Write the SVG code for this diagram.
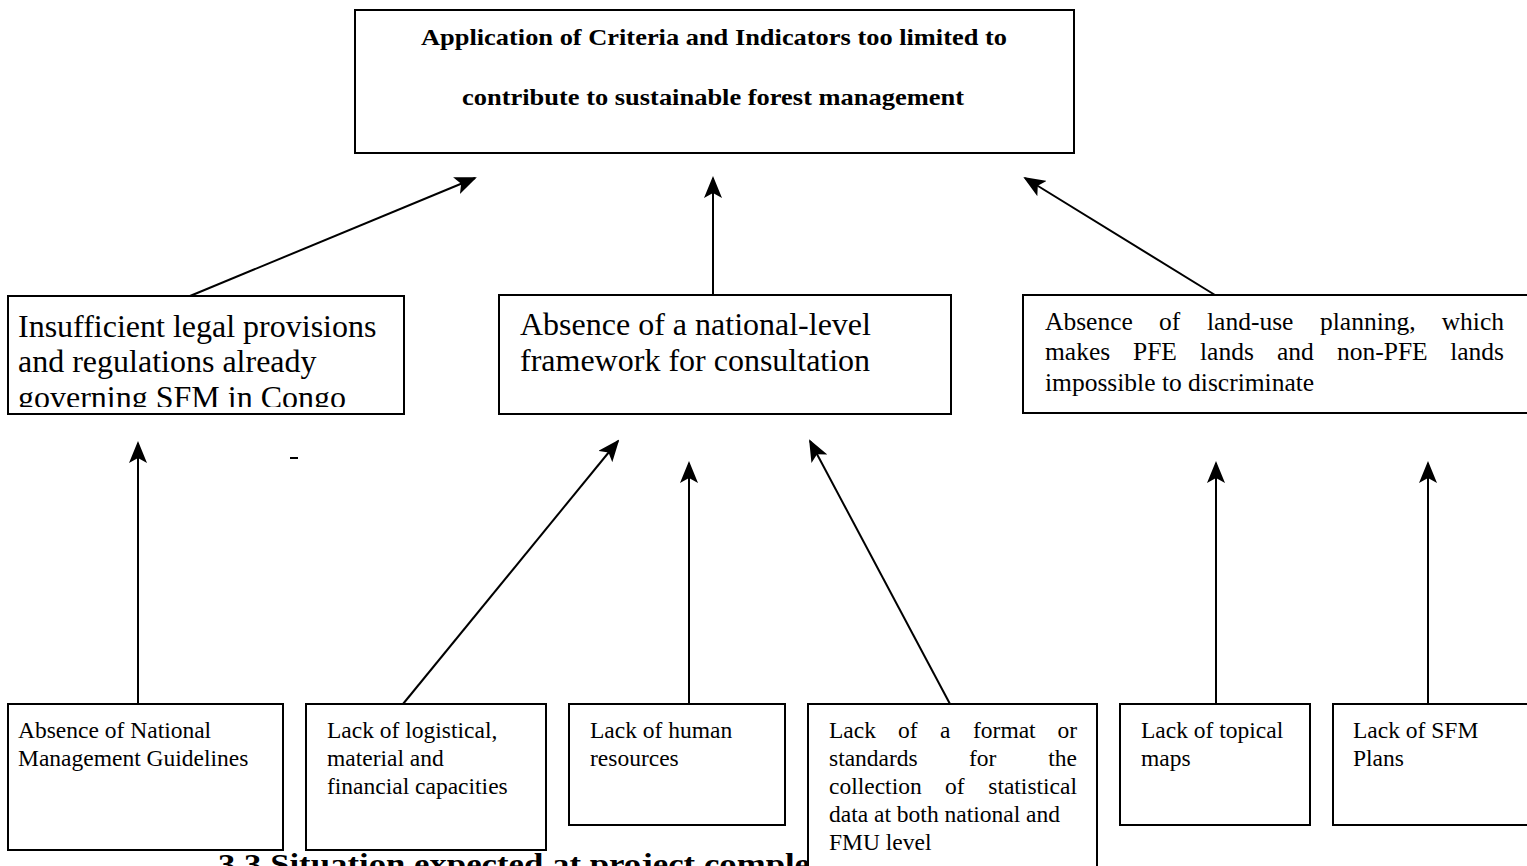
<svg xmlns="http://www.w3.org/2000/svg" width="1527" height="866" viewBox="0 0 1527 866">
<defs>
<style>
.box{fill:#fff;stroke:#000;stroke-width:2}
.t{font-family:"Liberation Serif","Times New Roman",serif;fill:#000}
.big{font-size:32px}
.sm{font-size:23.5px}
.rm{font-size:25.5px}
.title{font-size:23px;font-weight:bold}
.cap{font-size:30px;font-weight:bold}
.c{stroke:#000;stroke-width:2;fill:none;marker-end:url(#ah)}
</style>
<marker id="ah" markerUnits="userSpaceOnUse" markerWidth="22" markerHeight="18" viewBox="0 0 22 18" refX="20" refY="9" orient="auto">
<path d="M0,0 L22,9 L0,18 L5,9 z" fill="#000"/>
</marker>
<clipPath id="clipL"><rect x="8" y="296" width="396" height="111"/></clipPath>
</defs>
<rect width="1527" height="866" fill="#fff"/>

<text class="t cap" x="218" y="874" textLength="650" lengthAdjust="spacingAndGlyphs">3.3 Situation expected at project completion</text>

<g id="top">
<rect class="box" x="355" y="10" width="719" height="143"/>
<text class="t title" x="421" y="45" textLength="586" lengthAdjust="spacingAndGlyphs">Application of Criteria and Indicators too limited to</text>
<text class="t title" x="462" y="105" textLength="502" lengthAdjust="spacingAndGlyphs">contribute to sustainable forest management</text>
</g>

<g id="mid-left">
<rect class="box" x="8" y="296" width="396" height="118"/>
<g clip-path="url(#clipL)">
<text class="t big" x="18" y="337">Insufficient legal provisions</text>
<text class="t big" x="18" y="372">and regulations already</text>
<text class="t big" x="18" y="408">governing SFM in Congo</text>
</g>
</g>

<g id="mid-center">
<rect class="box" x="499" y="295" width="452" height="119"/>
<text class="t big" x="520" y="335">Absence of a national-level</text>
<text class="t big" x="520" y="371">framework for consultation</text>
</g>

<g id="mid-right">
<rect class="box" x="1023" y="295" width="510" height="118"/>
<text class="t rm" y="330"><tspan x="1045">Absence</tspan><tspan x="1159">of</tspan><tspan x="1207">land-use</tspan><tspan x="1320">planning,</tspan><tspan x="1504" text-anchor="end">which</tspan></text>
<text class="t rm" y="360"><tspan x="1045">makes</tspan><tspan x="1133">PFE</tspan><tspan x="1200">lands</tspan><tspan x="1277">and</tspan><tspan x="1337">non-PFE</tspan><tspan x="1504" text-anchor="end">lands</tspan></text>
<text class="t rm" x="1045" y="391">impossible to discriminate</text>
</g>

<g id="b1">
<rect class="box" x="8" y="704" width="275" height="146"/>
<text class="t sm" x="18" y="738">Absence of National</text>
<text class="t sm" x="18" y="766">Management Guidelines</text>
</g>

<g id="b2">
<rect class="box" x="306" y="704" width="240" height="146"/>
<text class="t sm" x="327" y="738">Lack of logistical,</text>
<text class="t sm" x="327" y="766">material and</text>
<text class="t sm" x="327" y="794">financial capacities</text>
</g>

<g id="b3">
<rect class="box" x="569" y="704" width="216" height="121"/>
<text class="t sm" x="590" y="738">Lack of human</text>
<text class="t sm" x="590" y="766">resources</text>
</g>

<g id="b4">
<rect class="box" x="808" y="704" width="289" height="170"/>
<text class="t sm" y="738"><tspan x="829">Lack</tspan><tspan x="898">of</tspan><tspan x="940">a</tspan><tspan x="973">format</tspan><tspan x="1077" text-anchor="end">or</tspan></text>
<text class="t sm" y="766"><tspan x="829">standards</tspan><tspan x="969">for</tspan><tspan x="1077" text-anchor="end">the</tspan></text>
<text class="t sm" y="794"><tspan x="829">collection</tspan><tspan x="945">of</tspan><tspan x="1077" text-anchor="end">statistical</tspan></text>
<text class="t sm" x="829" y="822">data at both national and</text>
<text class="t sm" x="829" y="850">FMU level</text>
</g>

<g id="b5">
<rect class="box" x="1120" y="704" width="190" height="121"/>
<text class="t sm" x="1141" y="738">Lack of topical</text>
<text class="t sm" x="1141" y="766">maps</text>
</g>

<g id="b6">
<rect class="box" x="1333" y="704" width="200" height="121"/>
<text class="t sm" x="1353" y="738">Lack of SFM</text>
<text class="t sm" x="1353" y="766">Plans</text>
</g>

<g id="connectors">
<line class="c" x1="190" y1="296" x2="475" y2="178"/>
<line class="c" x1="713" y1="295" x2="713" y2="178"/>
<line class="c" x1="1215" y1="295" x2="1025" y2="178"/>
<line class="c" x1="138" y1="704" x2="138" y2="443"/>
<line class="c" x1="403" y1="704" x2="618" y2="441"/>
<line class="c" x1="689" y1="704" x2="689" y2="463"/>
<line class="c" x1="950" y1="704" x2="810" y2="441"/>
<line class="c" x1="1216" y1="704" x2="1216" y2="463"/>
<line class="c" x1="1428" y1="704" x2="1428" y2="463"/>
</g>

<line x1="290" y1="458" x2="298" y2="458" stroke="#000" stroke-width="2"/>
</svg>
